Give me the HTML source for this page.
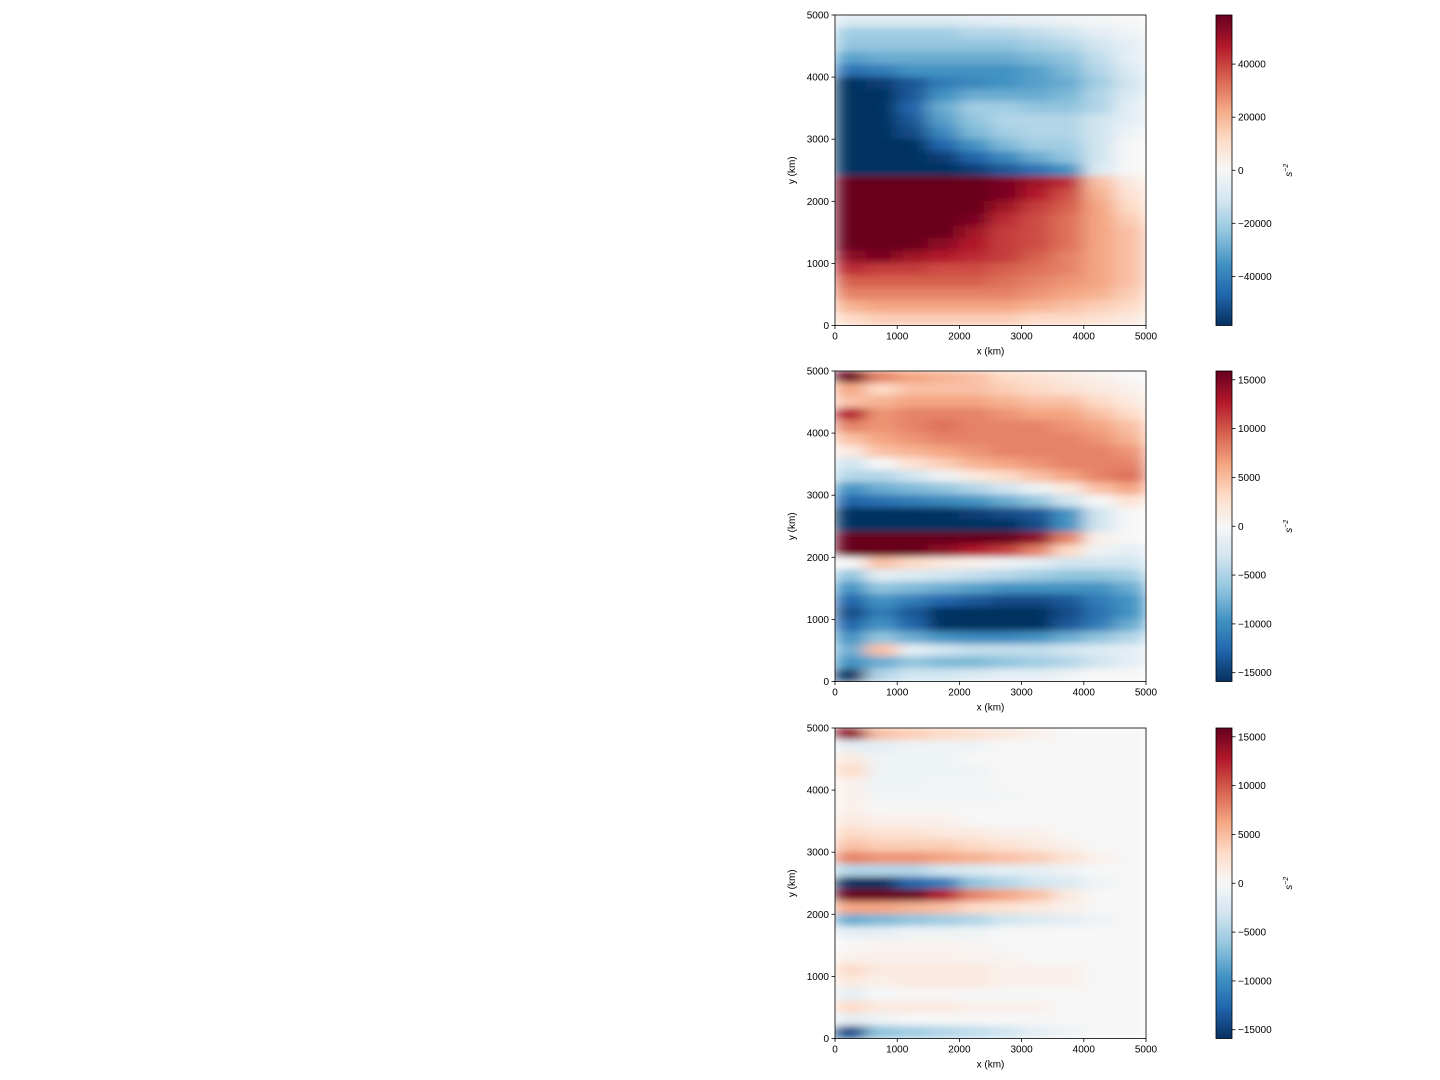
<!DOCTYPE html>
<html><head><meta charset="utf-8">
<style>
html,body{margin:0;padding:0;background:#fff;}
svg{display:block;font-family:"Liberation Sans","DejaVu Sans",sans-serif;}
</style></head>
<body>
<svg id="fig" width="1440" height="1080" viewBox="0 0 1440 1080"></svg>
<script>
// Panel data: 25 rows (top y=5000 to bottom y=0, 200 km each) x 10 cols (500 km each), normalized to vmax
const xCategories = [250,750,1250,1750,2250,2750,3250,3750,4250,4750];
const xTicks = [0,1000,2000,3000,4000,5000];
const yTicks = [0,1000,2000,3000,4000,5000];
const vmax1 = 58500, vmax2 = 15900, vmax3 = 15900;
const cbTicks1 = [-40000,-20000,0,20000,40000];
const cbTicks2 = [-15000,-10000,-5000,0,5000,10000,15000];
const cbTicks3 = [-15000,-10000,-5000,0,5000,10000,15000];
const panel1 = [
[-0.15,-0.15,-0.15,-0.15,-0.12,-0.1,-0.08,-0.05,-0.02,0],
[-0.35,-0.35,-0.35,-0.35,-0.3,-0.3,-0.25,-0.2,-0.1,-0.05],
[-0.4,-0.4,-0.4,-0.4,-0.4,-0.4,-0.35,-0.3,-0.2,-0.1],
[-0.55,-0.5,-0.5,-0.5,-0.5,-0.5,-0.45,-0.4,-0.25,-0.1],
[-0.75,-0.7,-0.6,-0.6,-0.6,-0.6,-0.55,-0.45,-0.3,-0.15],
[-1,-0.95,-0.85,-0.7,-0.65,-0.6,-0.55,-0.5,-0.35,-0.2],
[-1,-1,-0.85,-0.6,-0.5,-0.5,-0.5,-0.45,-0.3,-0.15],
[-1,-1,-0.8,-0.5,-0.35,-0.35,-0.4,-0.4,-0.3,-0.1],
[-1,-1,-0.85,-0.55,-0.4,-0.3,-0.3,-0.3,-0.2,-0.1],
[-1,-1,-0.9,-0.65,-0.45,-0.35,-0.3,-0.3,-0.2,-0.05],
[-1,-1,-1,-0.8,-0.6,-0.45,-0.35,-0.35,-0.2,0],
[-1,-1,-1,-0.95,-0.8,-0.65,-0.5,-0.4,-0.2,0],
[-1,-1,-1,-1,-0.95,-0.85,-0.75,-0.6,-0.15,0],
[1,1,1,1,1,0.95,0.85,0.75,0.3,0.1],
[1,1,1,1,1,0.95,0.8,0.65,0.35,0.15],
[1,1,1,1,1,0.85,0.7,0.6,0.4,0.2],
[1,1,1,1,0.95,0.75,0.65,0.55,0.4,0.25],
[1,1,1,1,0.85,0.7,0.65,0.55,0.4,0.3],
[1,1,1,0.9,0.8,0.7,0.65,0.55,0.4,0.3],
[0.9,0.95,0.85,0.8,0.75,0.7,0.6,0.5,0.4,0.3],
[0.75,0.7,0.7,0.65,0.65,0.6,0.55,0.5,0.4,0.3],
[0.6,0.6,0.6,0.6,0.6,0.55,0.5,0.45,0.4,0.3],
[0.5,0.5,0.5,0.5,0.5,0.5,0.45,0.4,0.35,0.25],
[0.35,0.4,0.4,0.4,0.4,0.4,0.35,0.3,0.25,0.2],
[0.2,0.25,0.25,0.25,0.25,0.25,0.2,0.2,0.15,0.1]
];
const panel2 = [
[1,0.5,0.4,0.35,0.3,0.2,0.15,0.1,0.05,0],
[0.4,0.2,0.3,0.3,0.3,0.25,0.2,0.15,0.1,0.05],
[0.3,0.35,0.4,0.4,0.4,0.35,0.3,0.3,0.2,0.1],
[0.8,0.45,0.5,0.5,0.5,0.45,0.4,0.4,0.3,0.2],
[0.5,0.45,0.5,0.55,0.5,0.5,0.5,0.45,0.4,0.3],
[0.3,0.4,0.45,0.5,0.5,0.5,0.5,0.5,0.45,0.35],
[0.1,0.3,0.35,0.4,0.45,0.5,0.5,0.5,0.5,0.45],
[-0.2,0,0.15,0.25,0.35,0.4,0.45,0.5,0.5,0.5],
[-0.3,-0.3,-0.2,-0.05,0.1,0.2,0.3,0.4,0.5,0.55],
[-0.6,-0.5,-0.45,-0.4,-0.3,-0.2,-0.05,0.1,0.3,0.4],
[-0.8,-0.75,-0.7,-0.65,-0.6,-0.5,-0.4,-0.2,0,0.15],
[-1,-1,-1,-1,-0.95,-0.9,-0.85,-0.6,-0.2,0],
[-1,-1,-1,-1,-1,-1,-0.9,-0.6,-0.2,0],
[1,1,1,1,1,1,0.9,0.5,0.05,0],
[1,1,1,0.9,0.8,0.7,0.5,0.2,-0.05,-0.1],
[0,0.3,0.2,0.1,0.05,-0.05,-0.1,-0.2,-0.2,-0.2],
[-0.4,-0.1,-0.15,-0.2,-0.25,-0.3,-0.35,-0.4,-0.4,-0.35],
[-0.6,-0.4,-0.45,-0.5,-0.55,-0.6,-0.6,-0.6,-0.6,-0.5],
[-0.8,-0.6,-0.7,-0.8,-0.85,-0.9,-0.9,-0.85,-0.7,-0.6],
[-0.9,-0.7,-0.85,-1,-1,-1,-1,-0.9,-0.75,-0.6],
[-0.8,-0.6,-0.8,-1,-1,-1,-1,-0.85,-0.7,-0.5],
[-0.6,-0.4,-0.5,-0.6,-0.65,-0.65,-0.6,-0.5,-0.4,-0.3],
[-0.5,0.3,-0.1,-0.2,-0.25,-0.25,-0.25,-0.2,-0.15,-0.1],
[-0.6,-0.5,-0.4,-0.45,-0.45,-0.4,-0.35,-0.3,-0.2,-0.1],
[-1,-0.3,-0.2,-0.2,-0.15,-0.1,-0.1,-0.05,0,0]
];
const panel3 = [
[0.9,0.3,0.25,0.2,0.15,0.1,0.05,0,0,0],
[-0.1,-0.1,-0.05,-0.05,-0.05,0,0,0,0,0],
[0.1,-0.05,-0.05,-0.05,0,0,0,0,0,0],
[0.2,-0.05,-0.05,-0.05,-0.05,0,0,0,0,0],
[0.05,-0.05,-0.05,-0.03,-0.03,0,0,0,0,0],
[0.05,-0.03,-0.03,-0.03,-0.03,-0.02,0,0,0,0],
[0.05,0,0,0,0,0,0,0,0,0],
[0.1,0.05,0.05,0.05,0,0,0,0,0,0],
[0.2,0.15,0.15,0.1,0.1,0.05,0.05,0,0,0],
[0.3,0.25,0.25,0.25,0.2,0.15,0.1,0.05,0,0],
[0.5,0.45,0.45,0.4,0.35,0.3,0.25,0.15,0.05,0],
[-0.3,-0.3,-0.3,-0.2,-0.15,-0.1,-0.1,-0.05,0,0],
[-1,-1,-0.8,-0.7,-0.4,-0.3,-0.2,-0.15,-0.05,0],
[1,1,1,0.8,0.5,0.4,0.3,0.1,0,0],
[0.4,0.4,0.35,0.3,0.2,0.15,0.1,0.05,0,0],
[-0.5,-0.45,-0.4,-0.35,-0.3,-0.2,-0.15,-0.1,-0.05,0],
[-0.1,-0.1,-0.05,-0.05,-0.05,0,0,0,0,0],
[0,0.03,0.03,0.03,0.02,0,0,0,0,0],
[0.05,0.05,0.05,0.05,0.03,0.03,0,0,0,0],
[0.2,0.1,0.1,0.1,0.1,0.05,0.05,0.05,0,0],
[0.1,0.05,0.1,0.1,0.1,0.05,0.05,0.05,0,0],
[-0.1,0,0,0,0,0,0,0,0,0],
[0.2,0.1,0.1,0.1,0.05,0.05,0.05,0,0,0],
[-0.1,-0.05,0,0,0,0,0,0,0,0],
[-0.9,-0.4,-0.35,-0.3,-0.25,-0.2,-0.1,-0.05,0,0]
];

const NS='http://www.w3.org/2000/svg';
const svg=document.getElementById('fig');
const stops=['#053061','#2166ac','#4393c3','#92c5de','#d1e5f0','#f7f7f7','#fddbc7','#f4a582','#d6604d','#b2182b','#67001f'];
function hex(c){return [parseInt(c.slice(1,3),16),parseInt(c.slice(3,5),16),parseInt(c.slice(5,7),16)];}
function cmap(v){v=Math.max(-1,Math.min(1,v));const t=(v+1)/2*(stops.length-1);const i=Math.min(stops.length-2,Math.floor(t));const f=t-i;const a=hex(stops[i]),b=hex(stops[i+1]);return 'rgb('+a.map((x,k)=>Math.round(x+(b[k]-x)*f)).join(',')+')';}
function el(tag,attrs,parent){const e=document.createElementNS(NS,tag);for(const k in attrs)e.setAttribute(k,attrs[k]);(parent||svg).appendChild(e);return e;}

const AX0=835, AX1=1146, CB0=1216, CB1=1232, PH=310.5;
const tops=[15,371,728];
const datas=[panel1,panel2,panel3];
const vmaxes=[vmax1,vmax2,vmax3];
const cbTicksAll=[cbTicks1,cbTicks2,cbTicks3];
const defs=el('defs',{});
const grad=el('linearGradient',{id:'cbgrad',x1:0,y1:1,x2:0,y2:0},defs);
stops.forEach((c,i)=>el('stop',{offset:(i/(stops.length-1)),'stop-color':c},grad));

datas.forEach((data,p)=>{
  const top=tops[p], bot=top+PH;
  const xs=v=>AX0+v/5000*(AX1-AX0);
  const ys=v=>bot-v/5000*PH;
  const g=el('g',{});
  
  
  const cp=el('clipPath',{id:'clip'+p},defs);
  el('rect',{x:AX0,y:top,width:AX1-AX0,height:PH},cp);
  const f=el('filter',{id:'blur'+p,filterUnits:'userSpaceOnUse',x:AX0,y:top,width:AX1-AX0,height:PH},defs);
  el('feGaussianBlur',{stdDeviation:'9 3.5',edgeMode:'duplicate'},f);
  const clipG=el('g',{'clip-path':'url(#clip'+p+')'},g);
  const cells=el('g',{filter:'url(#blur'+p+')'},clipG);
  const nr=data.length;
  data.forEach((row,r)=>{
    const y1=5000-r*5000/nr, y0=5000-(r+1)*5000/nr;
    row.forEach((v,c)=>{
      const xc=xCategories[c];
      const rc=el('rect',{x:xs(xc-250)-0.5,y:ys(y1)-0.5,width:xs(xc+250)-xs(xc-250)+1,height:ys(y0)-ys(y1)+1,fill:cmap(v)},cells);
      
      
    });
  });
  const fr=el('rect',{x:AX0,y:top,width:AX1-AX0,height:PH,fill:'none',stroke:'#000','stroke-width':0.8},g);
  
  
  xTicks.forEach(t=>{
    el('line',{x1:xs(t),x2:xs(t),y1:bot,y2:bot+3.5,stroke:'#000','stroke-width':0.8},g);
    const tx=el('text',{x:xs(t),y:bot+14,'font-size':10,'text-anchor':'middle',fill:'#000'},g);
    tx.textContent=t;
    
    
  });
  yTicks.forEach(t=>{
    el('line',{x1:AX0-3.5,x2:AX0,y1:ys(t),y2:ys(t),stroke:'#000','stroke-width':0.8},g);
    const tx=el('text',{x:AX0-6,y:ys(t)+3.5,'font-size':10,'text-anchor':'end',fill:'#000'},g);
    tx.textContent=t;
    
    
  });
  const xl=el('text',{x:(AX0+AX1)/2,y:bot+29,'font-size':10,'text-anchor':'middle'},g);
  xl.textContent='x (km)';
  
  
  const yl=el('text',{x:0,y:0,'font-size':10,'text-anchor':'middle',transform:'translate(795,'+(top+PH/2)+') rotate(-90)'},g);
  yl.textContent='y (km)';
  
  
  const cb=el('g',{},g);
  
  
  el('rect',{x:CB0,y:top,width:CB1-CB0,height:PH,fill:'url(#cbgrad)',stroke:'#000','stroke-width':0.8},cb);
  const vm=vmaxes[p];
  const cys=v=>top+PH/2-v/vm*PH/2;
  cbTicksAll[p].forEach(t=>{
    el('line',{x1:CB1,x2:CB1+3.5,y1:cys(t),y2:cys(t),stroke:'#000','stroke-width':0.8},cb);
    const tx=el('text',{x:CB1+6,y:cys(t)+3.5,'font-size':10,fill:'#000'},cb);
    tx.textContent=t<0?'\u2212'+(-t):String(t);
    
    
  });
  const cl=el('text',{x:0,y:0,'font-size':10,'font-style':'italic','text-anchor':'middle',transform:'translate(1292,'+(top+PH/2)+') rotate(-90)'},cb);
  cl.textContent='s';
  const sup=el('tspan',{'font-size':7,dy:-4},cl);
  sup.textContent='\u22122';
  
  
});
</script>
</body></html>
